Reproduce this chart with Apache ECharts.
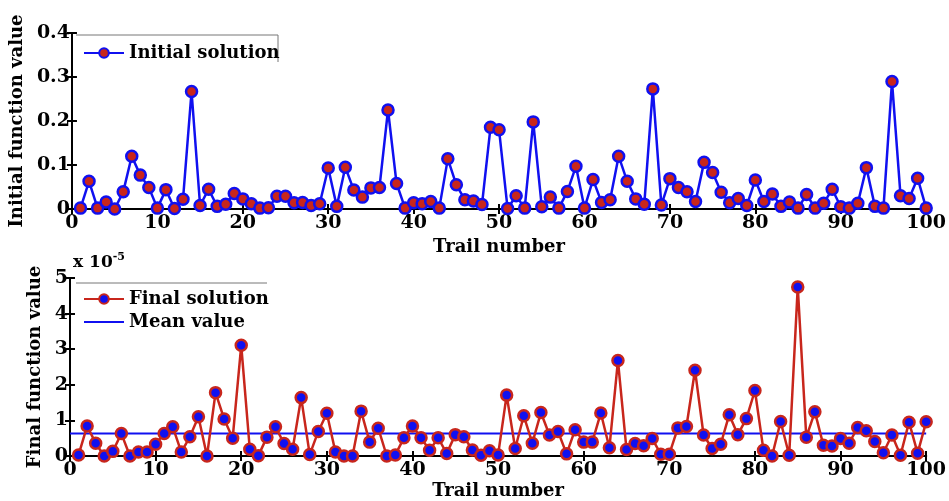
<!DOCTYPE html>
<html>
<head>
<meta charset="utf-8">
<script src="https://cdn.jsdelivr.net/npm/echarts@6/dist/echarts.min.js"></script>
<style>
  html, body { margin: 0; padding: 0; background: #fff; }
  #chart { width: 949px; height: 501px; }
</style>
</head>
<body>
<div id="chart"></div>
<script>
// trail numbers 1..100
var trails = [
  1, 2, 3, 4, 5, 6, 7, 8, 9, 10, 11, 12, 13, 14, 15, 16, 17, 18, 19, 20,
  21, 22, 23, 24, 25, 26, 27, 28, 29, 30, 31, 32, 33, 34, 35, 36, 37, 38, 39, 40,
  41, 42, 43, 44, 45, 46, 47, 48, 49, 50, 51, 52, 53, 54, 55, 56, 57, 58, 59, 60,
  61, 62, 63, 64, 65, 66, 67, 68, 69, 70, 71, 72, 73, 74, 75, 76, 77, 78, 79, 80,
  81, 82, 83, 84, 85, 86, 87, 88, 89, 90, 91, 92, 93, 94, 95, 96, 97, 98, 99, 100
]
// initial function value
var initialValues = [
  0.002, 0.063, 0.002, 0.016, 0.000, 0.039, 0.120, 0.077, 0.049, 0.002,
  0.044, 0.001, 0.022, 0.267, 0.008, 0.045, 0.006, 0.011, 0.035, 0.023,
  0.012, 0.002, 0.003, 0.029, 0.029, 0.014, 0.015, 0.008, 0.012, 0.093,
  0.006, 0.095, 0.043, 0.027, 0.048, 0.049, 0.225, 0.058, 0.002, 0.014,
  0.012, 0.017, 0.002, 0.114, 0.055, 0.021, 0.018, 0.010, 0.186, 0.180,
  0.001, 0.030, 0.002, 0.198, 0.005, 0.027, 0.002, 0.040, 0.097, 0.002,
  0.067, 0.015, 0.021, 0.120, 0.063, 0.023, 0.011, 0.273, 0.009, 0.069,
  0.049, 0.039, 0.017, 0.106, 0.083, 0.038, 0.014, 0.024, 0.008, 0.066,
  0.017, 0.034, 0.006, 0.016, 0.002, 0.033, 0.002, 0.013, 0.045, 0.005,
  0.002, 0.013, 0.094, 0.006, 0.002, 0.290, 0.030, 0.024, 0.070, 0.002
]
// final function value, in units of 1e-5
var finalValues = [
  0.03, 0.84, 0.36, 0.00, 0.13, 0.63, 0.00, 0.11, 0.11, 0.33,
  0.63, 0.82, 0.11, 0.54, 1.10, 0.00, 1.78, 1.04, 0.50, 3.11,
  0.19, 0.01, 0.53, 0.82, 0.35, 0.19, 1.64, 0.04, 0.69, 1.20,
  0.11, 0.00, 0.00, 1.26, 0.39, 0.78, 0.00, 0.03, 0.51, 0.84,
  0.51, 0.16, 0.51, 0.07, 0.60, 0.54, 0.17, 0.02, 0.15, 0.03,
  1.71, 0.21, 1.13, 0.36, 1.22, 0.59, 0.69, 0.06, 0.74, 0.39,
  0.39, 1.21, 0.23, 2.68, 0.18, 0.35, 0.29, 0.49, 0.05, 0.05,
  0.79, 0.83, 2.41, 0.59, 0.21, 0.33, 1.16, 0.60, 1.05, 1.84,
  0.16, 0.00, 0.97, 0.02, 4.75, 0.53, 1.24, 0.30, 0.28, 0.49,
  0.36, 0.80, 0.71, 0.41, 0.09, 0.59, 0.02, 0.95, 0.08, 0.96
]
var meanValue = 0.63
var meanRange = [0, 100]

var BLUE = '#1010f0'
var RED = '#c8261c'
var FONT = 'DejaVu Serif'

var chart = echarts.init(document.getElementById('chart'))

function pairs(xs, ys) {
  return xs.map(function(x, i) { return [x, ys[i]] })
}

function xAxisPair(gridIndex, nameGap) {
  return [
    {
      type: 'value',
      gridIndex: gridIndex,
      min: 0,
      max: 100,
      interval: 10,
      name: 'Trail number',
      nameLocation: 'middle',
      nameGap: nameGap,
      nameTextStyle: { fontFamily: FONT, fontWeight: 'bold', fontSize: 18, color: '#000' },
      axisLine: { lineStyle: { color: '#000', width: 2 } },
      axisTick: { inside: true, length: 5, lineStyle: { color: '#000', width: 2 } },
      axisLabel: { fontFamily: FONT, fontWeight: 'bold', fontSize: 19, color: '#000', margin: 5 },
      splitLine: { show: false }
    },
    {
      type: 'value',
      gridIndex: gridIndex,
      position: 'top',
      min: 0,
      max: 100,
      interval: 10,
      axisLine: { lineStyle: { color: '#000', width: 2 } },
      axisTick: { inside: true, length: 5, lineStyle: { color: '#000', width: 2 } },
      axisLabel: { show: false },
      splitLine: { show: false }
    }
  ]
}

function yAxisPair(gridIndex, max, interval, name, nameGap) {
  return [
    {
      type: 'value',
      gridIndex: gridIndex,
      min: 0,
      max: max,
      interval: interval,
      name: name,
      nameLocation: 'middle',
      nameGap: nameGap,
      nameTextStyle: { fontFamily: FONT, fontWeight: 'bold', fontSize: 18, color: '#000' },
      axisLine: { lineStyle: { color: '#000', width: 2 } },
      axisTick: { inside: true, length: 5, lineStyle: { color: '#000', width: 2 } },
      axisLabel: { fontFamily: FONT, fontWeight: 'bold', fontSize: 19, color: '#000', margin: 2 },
      splitLine: { show: false }
    },
    {
      type: 'value',
      gridIndex: gridIndex,
      position: 'right',
      min: 0,
      max: max,
      interval: interval,
      axisLine: { lineStyle: { color: '#000', width: 2 } },
      axisTick: { inside: true, length: 5, lineStyle: { color: '#000', width: 2 } },
      axisLabel: { show: false },
      splitLine: { show: false }
    }
  ]
}

var legendText = { fontFamily: FONT, fontWeight: 'bold', fontSize: 18, color: '#000' }

chart.setOption({
  animation: false,
  backgroundColor: '#fff',
  title: {
    text: '{b|x 10}{s|-5}',
    left: 68,
    top: 247,
    textStyle: {
      rich: {
        b: { fontFamily: FONT, fontWeight: 'bold', fontSize: 17, color: '#000' },
        s: { fontFamily: FONT, fontWeight: 'bold', fontSize: 11, color: '#000', verticalAlign: 'top', padding: [0, 0, 10, 0] }
      }
    }
  },
  // thin frame edges of the legend boxes
  graphic: [
    { type: 'line', shape: { x1: 76, y1: 35, x2: 278, y2: 35 }, style: { stroke: '#777', lineWidth: 1 }, silent: true },
    { type: 'line', shape: { x1: 278, y1: 35, x2: 278, y2: 62 }, style: { stroke: '#777', lineWidth: 1 }, silent: true },
    { type: 'line', shape: { x1: 76, y1: 283, x2: 267, y2: 283 }, style: { stroke: '#777', lineWidth: 1 }, silent: true }
  ],
  grid: [
    { left: 70, right: 19, top: 33, height: 176 },
    { left: 70, right: 19, top: 278, height: 179 }
  ],
  legend: [
    {
      data: ['Initial solution'],
      left: 78,
      top: 39,
      orient: 'vertical',
      itemWidth: 40,
      itemHeight: 12,
      itemGap: 6,
      textStyle: legendText
    },
    {
      data: ['Final solution', { name: 'Mean value', itemStyle: { opacity: 0 } }],
      left: 78,
      top: 285,
      orient: 'vertical',
      itemGap: 5,
      itemWidth: 40,
      itemHeight: 12,
      textStyle: legendText
    }
  ],
  xAxis: xAxisPair(0, 29).concat(xAxisPair(1, 26)),
  yAxis: yAxisPair(0, 0.4, 0.1, 'Initial function value', 44)
    .concat(yAxisPair(1, 5, 1, 'Final function value', 23)),
  series: [
    {
      name: 'Initial solution',
      type: 'line',
      xAxisIndex: 0,
      yAxisIndex: 0,
      data: pairs(trails, initialValues),
      symbol: 'circle',
      symbolSize: 11,
      lineStyle: { color: BLUE, width: 2.5 },
      itemStyle: { color: RED, borderColor: BLUE, borderWidth: 2.5 }
    },
    {
      name: 'Final solution',
      type: 'line',
      xAxisIndex: 2,
      yAxisIndex: 2,
      data: pairs(trails, finalValues),
      symbol: 'circle',
      symbolSize: 11,
      lineStyle: { color: RED, width: 2.5 },
      itemStyle: { color: BLUE, borderColor: RED, borderWidth: 2.5 }
    },
    {
      name: 'Mean value',
      type: 'line',
      xAxisIndex: 2,
      yAxisIndex: 2,
      data: meanRange.map(function(x) { return [x, meanValue] }),
      symbol: 'none',
      z: 1,
      lineStyle: { color: BLUE, width: 2 },
      itemStyle: { color: BLUE }
    }
  ]
})
</script>
</body>
</html>
